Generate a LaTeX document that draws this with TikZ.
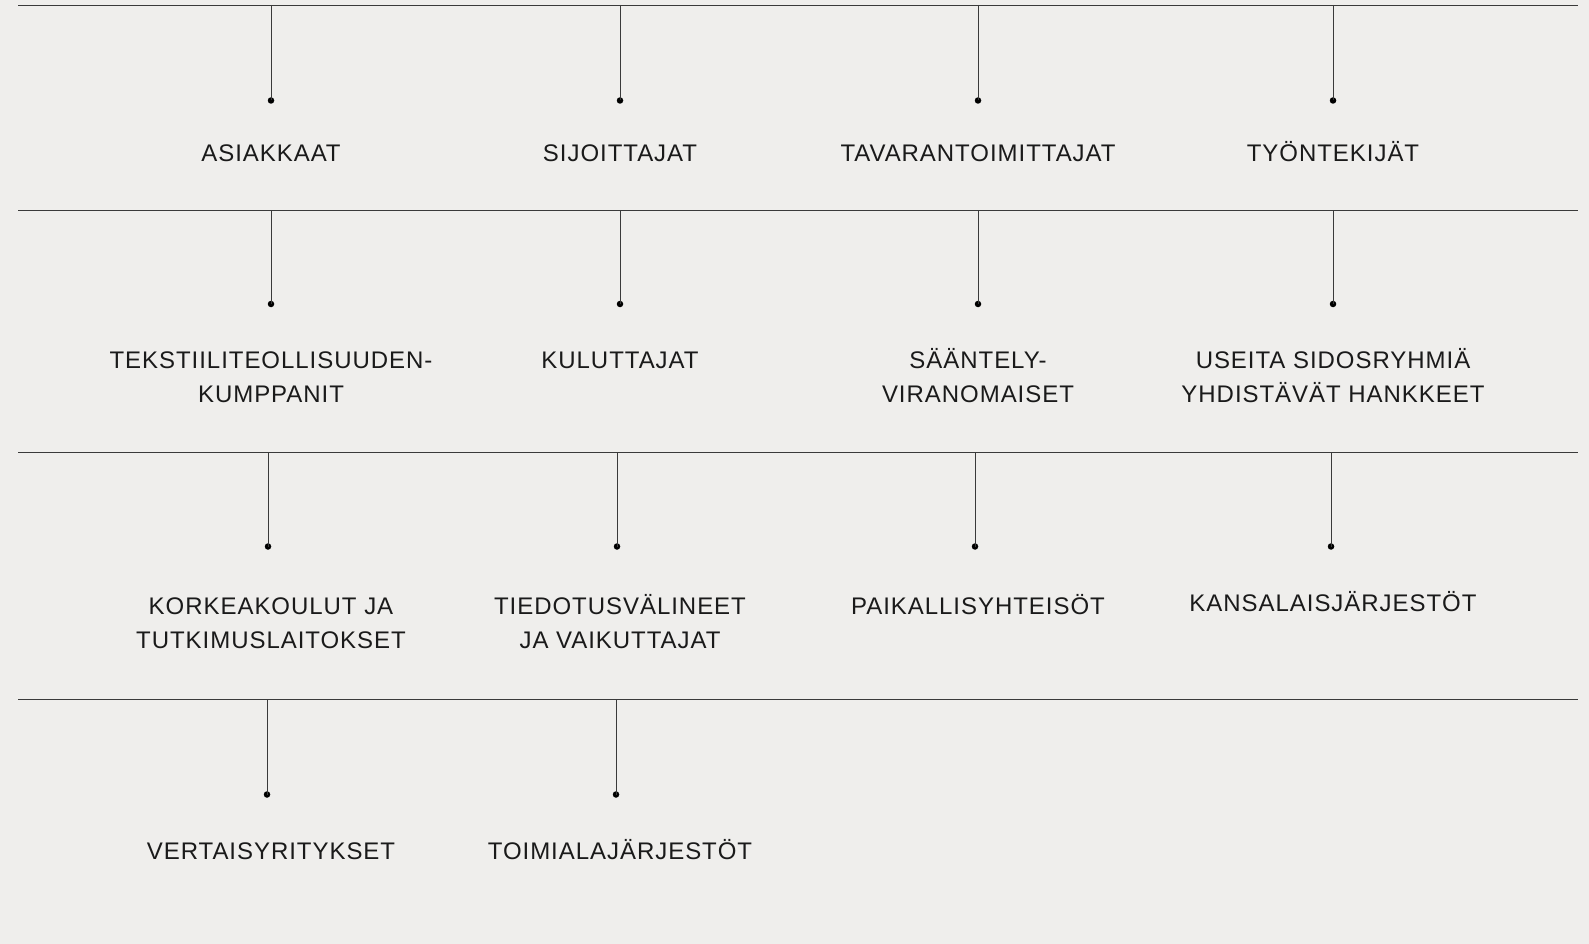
\documentclass[tikz,border=0pt]{standalone}
\usepackage{fontspec}
\newfontfamily\groupfont{Liberation Sans}[LetterSpace=4]
\usepackage{tikz}
\usetikzlibrary{positioning}
\definecolor{bggray}{HTML}{EFEEEC}
\definecolor{linegray}{HTML}{3A3A3A}
\definecolor{textblack}{HTML}{1A1A1A}

\tikzset{
  rule/.style={draw=linegray, line width=0.9pt},
  stem/.style={draw=linegray, line width=0.9pt},
  dot/.style={circle, fill=black, inner sep=0pt, minimum size=6.5pt},
  grouptext/.style={anchor=base, align=center, inner sep=0pt, text=textblack,
    font=\groupfont\fontsize{24}{34.4}\selectfont}
}

\begin{document}
\begin{tikzpicture}[x=1pt, y=-1pt]
\useasboundingbox[fill=bggray] (0,0) rectangle (1589,944);

% horizontal rules
\coordinate (r1l) at (18,5);   \coordinate (r1r) at (1578,5);
\coordinate (r2l) at (18,210); \coordinate (r2r) at (1578,210);
\coordinate (r3l) at (18,452); \coordinate (r3r) at (1578,452);
\coordinate (r4l) at (18,699); \coordinate (r4r) at (1578,699);
\draw[rule] (r1l) -- (r1r);
\draw[rule] (r2l) -- (r2r);
\draw[rule] (r3l) -- (r3r);
\draw[rule] (r4l) -- (r4r);

% row 1
\coordinate (t11) at (271,5);  \node[dot] (d11) at (271,100.5) {};
\coordinate (t12) at (620,5);  \node[dot] (d12) at (620,100.5) {};
\coordinate (t13) at (978,5);  \node[dot] (d13) at (978,100.5) {};
\coordinate (t14) at (1333,5); \node[dot] (d14) at (1333,100.5) {};
\node[grouptext] (asiakkaat) at (271,161.5) {ASIAKKAAT};
\node[grouptext] (sijoittajat) at (620,161.5) {SIJOITTAJAT};
\node[grouptext] (tavarantoimittajat) at (978,161.5) {TAVARANTOIMITTAJAT};
\node[grouptext] (tyontekijat) at (1333,161.5) {TYÖNTEKIJÄT};

% row 2 (two-line labels: base is the last line)
\coordinate (t21) at (271,210);  \node[dot] (d21) at (271,304) {};
\coordinate (t22) at (620,210);  \node[dot] (d22) at (620,304) {};
\coordinate (t23) at (978,210);  \node[dot] (d23) at (978,304) {};
\coordinate (t24) at (1333,210); \node[dot] (d24) at (1333,304) {};
\node[grouptext] (tekstiili) at (271,402.7) {TEKSTIILITEOLLISUUDEN-\\KUMPPANIT};
\node[grouptext] (kuluttajat) at (620,368.3) {KULUTTAJAT};
\node[grouptext] (saantely) at (978,402.7) {SÄÄNTELY-\\VIRANOMAISET};
\node[grouptext] (hankkeet) at (1333,402.7) {USEITA SIDOSRYHMIÄ\\YHDISTÄVÄT HANKKEET};

% row 3
\coordinate (t31) at (268,452);  \node[dot] (d31) at (268,546.5) {};
\coordinate (t32) at (617,452);  \node[dot] (d32) at (617,546.5) {};
\coordinate (t33) at (975,452);  \node[dot] (d33) at (975,546.5) {};
\coordinate (t34) at (1331,452); \node[dot] (d34) at (1331,546.5) {};
\node[grouptext] (korkeakoulut) at (271,648.9) {KORKEAKOULUT JA\\TUTKIMUSLAITOKSET};
\node[grouptext] (tiedotus) at (620,648.9) {TIEDOTUSVÄLINEET\\JA VAIKUTTAJAT};
\node[grouptext] (paikallis) at (978,614.5) {PAIKALLISYHTEISÖT};
\node[grouptext] (kansalais) at (1333,611.5) {KANSALAISJÄRJESTÖT};

% row 4
\coordinate (t41) at (267,699); \node[dot] (d41) at (267,794.5) {};
\coordinate (t42) at (616,699); \node[dot] (d42) at (616,794.5) {};
\node[grouptext] (vertais) at (271,859.5) {VERTAISYRITYKSET};
\node[grouptext] (toimiala) at (620,859.5) {TOIMIALAJÄRJESTÖT};

% stems
\foreach \s in {11,12,13,14,21,22,23,24,31,32,33,34,41,42}
  \draw[stem] (t\s) -- (d\s.center);
\end{tikzpicture}
\end{document}
